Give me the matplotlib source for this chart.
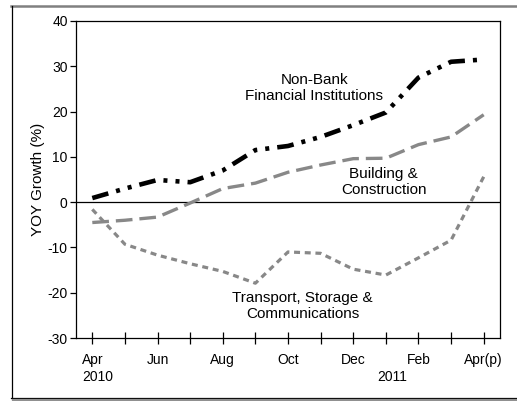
import matplotlib
matplotlib.use("Agg")
import matplotlib.pyplot as plt
from matplotlib.lines import Line2D

plt.rcParams['font.family'] = ['Liberation Sans', 'DejaVu Sans']
plt.rcParams['lines.scale_dashes'] = False
plt.rcParams['axes.unicode_minus'] = False

months = ["Apr", "May", "Jun", "Jul", "Aug", "Sep", "Oct", "Nov", "Dec", "Jan", "Feb", "Mar", "Apr(p)"]
tick_labels = ["Apr", "", "Jun", "", "Aug", "", "Oct", "", "Dec", "", "Feb", "", "Apr(p)"]
non_bank = [0.9, 3.0, 4.9, 4.4, 7.0, 11.5, 12.4, 14.4, 17.0, 19.8, 27.5, 31.0, 31.5]
building = [-4.5, -4.0, -3.3, -0.2, 3.0, 4.2, 6.6, 8.2, 9.6, 9.7, 12.7, 14.4, 19.3]
transport = [-1.6, -9.3, -11.7, -13.6, -15.3, -17.9, -11.0, -11.3, -14.8, -16.1, -12.3, -8.4, 5.6]

W, H = 517, 401
fig = plt.figure(figsize=(W / 100, H / 100), dpi=100)

# outer frame
fig.add_artist(Line2D([11 / W, 1.0], [1 - 5.5 / H, 1 - 5.5 / H], color='#808080', lw=1.8))
fig.add_artist(Line2D([11.5 / W, 11.5 / W], [1 - 5.5 / H, 1 - 397.5 / H], color='black', lw=0.9))
fig.add_artist(Line2D([11 / W, 1.0], [1 - 397.5 / H, 1 - 397.5 / H], color='black', lw=0.9))
fig.add_artist(Line2D([13 / W, 1.0], [1 - 399.5 / H, 1 - 399.5 / H], color='#909090', lw=1.6))

ax = fig.add_axes([76 / W, 1 - 338 / H, (500 - 76) / W, (338 - 21) / H])
x = list(range(len(months)))

ax.axhline(0, color='black', lw=0.9, zorder=1)
ax.plot(x, non_bank, color='black', lw=3.3, dashes=(12, 5.8, 2.9, 5.8, 2.9, 5.8), zorder=3)
ax.plot(x, building, color='#888888', lw=2.4, dashes=(12, 5), zorder=2)
ax.plot(x, transport, color='#888888', lw=2.3, dashes=(4.3, 3.4), zorder=2)

ax.set_xlim(-0.5, 12.5)
ax.set_ylim(-30, 40)
ax.set_yticks(range(-30, 41, 10))
ax.set_xticks(x)
ax.set_xticklabels(tick_labels, fontsize=10)
ax.tick_params(axis='x', direction='inout', length=8, width=0.9, pad=7)
ax.tick_params(axis='y', direction='out', length=4, width=0.9, pad=2, labelsize=10)
for s in ax.spines.values():
    s.set_linewidth(0.9)

ax.set_ylabel("YOY Growth (%)", fontsize=11, labelpad=2)

ax.text(-0.3, -38.7, "2010", fontsize=10, ha='left', va='center')
ax.text(9.2, -38.7, "2011", fontsize=10, ha='center', va='center')

ax.text(6.8, 25.2, "Non-Bank\nFinancial Institutions", fontsize=11, ha='center', va='center', linespacing=1.2)
ax.text(8.93, 4.4, "Building &\nConstruction", fontsize=11, ha='center', va='center', linespacing=1.2)
ax.text(6.45, -23.0, "Transport, Storage &\nCommunications", fontsize=11, ha='center', va='center', linespacing=1.2)

fig.savefig("out.png", dpi=100)
